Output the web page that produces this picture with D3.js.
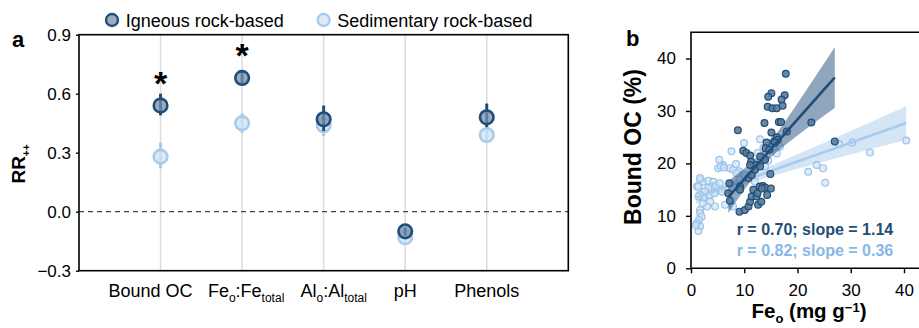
<!DOCTYPE html>
<html>
<head>
<meta charset="utf-8">
<script src="https://cdn.jsdelivr.net/npm/d3@7"></script>
<style>
  html, body { margin: 0; padding: 0; background: #fff; }
  svg { display: block; }
  text { font-family: "Liberation Sans", Arial, Helvetica, sans-serif; }
</style>
</head>
<body>
<svg id="chart" width="919" height="328"></svg>
<script>
// ---------- Panel a: response ratios (RR++) by bedrock type ----------
const categories = ["Bound OC", "Feo:Fetotal", "Alo:Altotal", "pH", "Phenols"];
// label pieces: [text, "sub" | ""]
const categoryLabels = [
  [["Bound OC", ""]],
  [["Fe", ""], ["o", "sub"], [":Fe", ""], ["total", "sub"]],
  [["Al", ""], ["o", "sub"], [":Al", ""], ["total", "sub"]],
  [["pH", ""]],
  [["Phenols", ""]]
];
const igneousRR      = [0.54, 0.68, 0.47, -0.10, 0.48];
const igneousLow     = [0.49, 0.65, 0.41, -0.12, 0.43];
const igneousHigh    = [0.60, 0.71, 0.54, -0.08, 0.55];
const sedimentaryRR  = [0.28, 0.45, 0.44, -0.13, 0.39];
const sedimentaryLow = [0.22, 0.40, 0.385, -0.15, 0.36];
const sedimentaryHigh= [0.35, 0.50, 0.49, -0.11, 0.42];
const significant    = [true, true, false, false, false];
const rrTicks = [-0.3, 0, 0.3, 0.6, 0.9];
const seriesNames = ["Igneous rock-based", "Sedimentary rock-based"];

// ---------- Panel b: bound OC vs oxalate-extractable Fe ----------
const igneousPoints = [
  [17.8,37.1],[15.1,33.4],[14.5,32.7],[17.6,33.0],[17.0,32.2],[14.4,30.8],[15.3,30.5],
  [16.1,30.5],[17.2,31.0],[13.8,27.7],[16.5,27.9],[16.9,27.9],[8.8,26.3],[15.1,25.9],
  [18.0,26.1],[16.1,25.0],[14.2,24.0],[15.6,24.2],[16.3,24.5],[9.8,22.4],[10.4,22.0],
  [11.1,21.5],[14.0,22.9],[22.6,27.8],[27.0,24.2],[11.3,20.3],[12.3,19.7],[11.1,19.7],
  [13.9,20.7],[13.0,21.3],[14.7,22.6],[15.8,24.0],[7.2,16.2],[7.0,14.3],[7.3,12.9],
  [9.2,15.6],[9.2,15.0],[9.1,10.8],[10.1,11.1],[10.8,11.8],[11.1,12.7],[11.4,13.7],
  [12.3,13.7],[12.6,12.1],[13.2,12.7],[11.7,15.0],[12.9,15.6],[13.5,15.7],[13.9,15.4],
  [15.0,15.2],[14.3,14.0],[12.5,14.3],[10.8,17.2],[11.4,17.8],[12.0,18.8],[13.0,19.4],
  [14.9,18.0],[13.3,15.2]
];
const sedimentaryPoints = [
  [5.3,20.7],[6.0,19.7],[5.1,19.1],[5.6,19.4],[7.3,19.1],[1.7,16.9],[2.3,16.5],[3.25,16.7],
  [4.2,16.5],[3.9,15.5],[4.7,15.8],[5.4,16.2],[1.1,15.6],[3.25,15.3],[2.6,14.7],[1.7,14.0],
  [3.5,14.0],[4.4,14.3],[2.3,13.3],[3.6,12.7],[4.5,11.8],[3.0,11.8],[2.2,12.4],[6.4,12.1],
  [7.9,11.8],[1.7,11.1],[1.7,10.5],[2.0,9.85],[1.5,9.2],[1.07,8.6],[1.7,7.95],[1.4,7.1],
  [0.9,8.2],[1.4,15.6],[1.7,17.2],[1.4,13.7],[7.6,22.3],[12.96,24.6],[13.6,23.0],[7.9,18.8],
  [9.0,18.5],[10.1,17.8],[13.9,19.4],[16.1,21.9],[16.7,23.2],[15.8,24.8],[22.0,18.4],
  [23.6,19.7],[24.8,19.1],[25.2,16.3],[27.8,23.7],[30.3,24.0],[33.6,22.1],[40.4,24.35],
  [15.5,23.2],[9.95,23.9],[8.45,19.9],[6.2,19.2],[11.1,17.5],[8.6,18.1],[9.1,16.9],
  [12.0,16.5],[6.5,15.0],[5.8,14.6],[12.5,22.0],[14.5,20.5]
];
const igneousFit     = { r: 0.70, slope: 1.14, intercept: 5.6 };
const sedimentaryFit = { r: 0.82, slope: 0.36, intercept: 13.15 };
const feTicks = [0, 10, 20, 30, 40];
const ocTicks = [0, 10, 20, 30, 40];

// ---------- styles ----------
const DARK = "#1f4e79", DARK_FILL = "#7590ad";
const LIGHT = "#a9cbeb", LIGHT_FILL = "#d0e3f5";
const LIGHT_TEXT = "#86b7e6";

const svg = d3.select("#chart");

// =================== Panel a ===================
const A = { left: 79, right: 568.3, top: 34.7, bottom: 270.7 };
const xA = d3.scalePoint().domain(categories).range([A.left, A.right]).padding(1);
const yA = d3.scaleLinear().domain([-0.3, 0.9]).range([A.bottom, A.top]);

const gA = svg.append("g");

// vertical guide lines
gA.selectAll("line.grid").data(categories).join("line")
  .attr("x1", d => xA(d)).attr("x2", d => xA(d))
  .attr("y1", A.top).attr("y2", A.bottom)
  .attr("stroke", "#dcdcdc").attr("stroke-width", 1.5);

// zero reference
gA.append("line")
  .attr("x1", A.left).attr("x2", A.right)
  .attr("y1", yA(0)).attr("y2", yA(0))
  .attr("stroke", "#444").attr("stroke-width", 1.3).attr("stroke-dasharray", "5,4");

function drawSeries(vals, lo, hi, stroke, fill) {
  const g = gA.append("g");
  g.selectAll("line").data(categories).join("line")
    .attr("x1", d => xA(d)).attr("x2", d => xA(d))
    .attr("y1", (d, i) => yA(lo[i])).attr("y2", (d, i) => yA(hi[i]))
    .attr("stroke", stroke).attr("stroke-width", 3);
  g.selectAll("circle").data(categories).join("circle")
    .attr("cx", d => xA(d)).attr("cy", (d, i) => yA(vals[i]))
    .attr("r", 6.8)
    .attr("fill", fill).attr("fill-opacity", 0.75)
    .attr("stroke", stroke).attr("stroke-width", 2.6);
}
drawSeries(sedimentaryRR, sedimentaryLow, sedimentaryHigh, LIGHT, LIGHT_FILL);
drawSeries(igneousRR, igneousLow, igneousHigh, DARK, DARK_FILL);

// significance marks
gA.selectAll("text.sig").data(categories.filter((d, i) => significant[i])).join("text")
  .attr("class", "sig")
  .attr("x", d => xA(d))
  .attr("y", d => yA(igneousRR[categories.indexOf(d)]) - 11)
  .attr("text-anchor", "middle")
  .attr("font-size", 34).attr("font-weight", "bold")
  .text("*");

// frame
gA.append("rect")
  .attr("x", A.left).attr("y", A.top)
  .attr("width", A.right - A.left).attr("height", A.bottom - A.top)
  .attr("fill", "none").attr("stroke", "#000").attr("stroke-width", 1.6);

// y axis
const axA = gA.append("g").attr("transform", `translate(${A.left},0)`)
  .call(d3.axisLeft(yA).tickValues(rrTicks).tickSize(3).tickPadding(5)
    .tickFormat(d => d < 0 ? "\u2212" + Math.abs(d).toFixed(1) : d.toFixed(1)));
axA.select(".domain").remove();
axA.selectAll("line").attr("stroke", "#000").attr("stroke-width", 1.4);
axA.selectAll("text").attr("font-size", 17).attr("font-family", "'Liberation Sans', Arial, sans-serif");

// category labels
const labelShift = [-10, 4, 10, 0, 0];
categories.forEach((c, i) => {
  const t = gA.append("text")
    .attr("x", xA(c) + labelShift[i]).attr("y", 297)
    .attr("text-anchor", "middle").attr("font-size", 18);
  let shifted = false;
  categoryLabels[i].forEach(([s, kind]) => {
    const sp = t.append("tspan").text(s);
    if (kind === "sub") { sp.attr("font-size", 12).attr("dy", shifted ? 0 : 5); shifted = true; }
    else { if (shifted) { sp.attr("dy", -5); shifted = false; } }
  });
});

// y title
const rr = gA.append("text")
  .attr("transform", "translate(25,164) rotate(-90)")
  .attr("text-anchor", "middle").attr("font-size", 19).attr("font-weight", "bold");
rr.append("tspan").text("RR");
rr.append("tspan").text("++").attr("font-size", 10).attr("dy", 5);

// panel letter
svg.append("text").attr("x", 12).attr("y", 46.5)
  .attr("font-size", 22).attr("font-weight", "bold").text("a");

// legend
const legend = svg.append("g");
const legendX = [112, 323.6];
[[DARK, DARK_FILL], [LIGHT, LIGHT_FILL]].forEach(([s, f], i) => {
  legend.append("circle").attr("cx", legendX[i]).attr("cy", 20).attr("r", 6)
    .attr("fill", f).attr("fill-opacity", 0.75).attr("stroke", s).attr("stroke-width", 2.4);
  legend.append("text").attr("x", legendX[i] + 13.7).attr("y", 26.5)
    .attr("font-size", 18).text(seriesNames[i]);
});

// =================== Panel b ===================
const B = { left: 691, top: 32.3, bottom: 268.3 };
const xB = d3.scaleLinear().domain([0, 43]).range([B.left, B.left + 43 * 5.325]);
const yB = d3.scaleLinear().domain([0, 45]).range([B.bottom, B.top]);
const gB = svg.append("g");

// regression confidence band from the points about the fitted line
function bandData(pts, fit) {
  const n = pts.length;
  const xs = pts.map(p => p[0]);
  const xbar = d3.mean(xs);
  const sxx = d3.sum(xs, x => (x - xbar) ** 2);
  const sse = d3.sum(pts, p => (p[1] - (fit.intercept + fit.slope * p[0])) ** 2);
  const s = Math.sqrt(sse / (n - 2));
  const [x0, x1] = d3.extent(xs);
  return d3.range(0, 61).map(k => {
    const x = x0 + (x1 - x0) * k / 60;
    const yhat = fit.intercept + fit.slope * x;
    const hw = 1.99 * s * Math.sqrt(1 / n + (x - xbar) ** 2 / sxx);
    return { x, lo: yhat - hw, hi: yhat + hw, y: yhat };
  });
}
const area = d3.area().x(d => xB(d.x)).y0(d => yB(d.lo)).y1(d => yB(d.hi));
const line = d3.line().x(d => xB(d.x)).y(d => yB(d.y));
const sedBand = bandData(sedimentaryPoints, sedimentaryFit);
const ignBand = bandData(igneousPoints, igneousFit);

gB.append("path").attr("d", area(sedBand)).attr("fill", LIGHT).attr("fill-opacity", 0.5);
gB.selectAll("circle.sed").data(sedimentaryPoints).join("circle").attr("class", "sed")
  .attr("cx", d => xB(d[0])).attr("cy", d => yB(d[1])).attr("r", 3.4)
  .attr("fill", LIGHT_FILL).attr("fill-opacity", 0.7)
  .attr("stroke", "#9cc2e8").attr("stroke-width", 1.2);
gB.append("path").attr("d", line(sedBand)).attr("fill", "none")
  .attr("stroke", LIGHT).attr("stroke-width", 2.6);

gB.append("path").attr("d", area(ignBand)).attr("fill", DARK).attr("fill-opacity", 0.5);
gB.selectAll("circle.ign").data(igneousPoints).join("circle").attr("class", "ign")
  .attr("cx", d => xB(d[0])).attr("cy", d => yB(d[1])).attr("r", 3.4)
  .attr("fill", "#5a7a9c").attr("fill-opacity", 0.9)
  .attr("stroke", DARK).attr("stroke-width", 1.2);
gB.append("path").attr("d", line(ignBand)).attr("fill", "none")
  .attr("stroke", DARK).attr("stroke-width", 2.6);

// frame (right edge runs past the canvas)
gB.append("path")
  .attr("d", `M${xB.range()[1] + 10},${B.top}H${B.left}V${B.bottom}H${xB.range()[1] + 10}`)
  .attr("fill", "none").attr("stroke", "#000").attr("stroke-width", 1.6);

const axBy = gB.append("g").attr("transform", `translate(${B.left},0)`)
  .call(d3.axisLeft(yB).tickValues(ocTicks).tickSize(5).tickPadding(10).tickSizeOuter(0));
const axBx = gB.append("g").attr("transform", `translate(0,${B.bottom})`)
  .call(d3.axisBottom(xB).tickValues(feTicks).tickSize(5).tickPadding(10.5).tickSizeOuter(0));
[axBy, axBx].forEach(ax => {
  ax.select(".domain").remove();
  ax.selectAll("line").attr("stroke", "#000").attr("stroke-width", 1.4);
  ax.selectAll("text").attr("font-size", 17).attr("font-family", "'Liberation Serif', 'Times New Roman', serif");
});

// fit annotations
gB.append("text").attr("x", 736.7).attr("y", 235).attr("font-size", 16).attr("font-weight", "bold")
  .style("fill", DARK)
  .text(`r = ${igneousFit.r.toFixed(2)}; slope = ${igneousFit.slope.toFixed(2)}`);
gB.append("text").attr("x", 736.7).attr("y", 255.5).attr("font-size", 16).attr("font-weight", "bold")
  .style("fill", LIGHT_TEXT)
  .text(`r = ${sedimentaryFit.r.toFixed(2)}; slope = ${sedimentaryFit.slope.toFixed(2)}`);

// axis titles
svg.append("text").attr("transform", "translate(641,147) rotate(-90)")
  .attr("text-anchor", "middle").attr("font-size", 23).attr("font-weight", "bold")
  .text("Bound OC (%)");
const xt = svg.append("text").attr("x", 809).attr("y", 318)
  .attr("text-anchor", "middle").attr("font-size", 20.5).attr("font-weight", "bold");
xt.append("tspan").text("Fe");
xt.append("tspan").text("o").attr("font-size", 13).attr("dy", 5);
xt.append("tspan").text(" (mg g").attr("dy", -5);
xt.append("tspan").text("\u22121").attr("font-size", 13).attr("dy", -6.5);
xt.append("tspan").text(")").attr("dy", 6.5);

svg.append("text").attr("x", 626).attr("y", 46)
  .attr("font-size", 22).attr("font-weight", "bold").text("b");
</script>
</body>
</html>
